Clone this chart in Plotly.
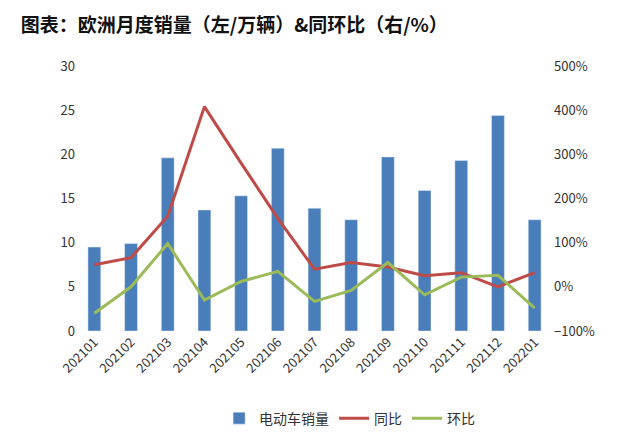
import plotly.graph_objects as go

months = ["202101","202102","202103","202104","202105","202106","202107","202108","202109","202110","202111","202112","202201"]
sales = [9.5, 9.9, 19.6, 13.7, 15.3, 20.7, 13.9, 12.6, 19.7, 15.9, 19.3, 24.4, 12.6]
yoy = [50, 66, 160, 408, 280, 155, 40, 55, 45, 25, 32, 0, 32]
mom = [-60, 0, 98, -30, 12, 35, -33, -8, 55, -18, 22, 26, -48]

fig = go.Figure()
fig.add_bar(x=months, y=sales, name="电动车销量", marker_color="#4a7ebb", width=0.35)
fig.add_scatter(x=months, y=yoy, name="同比", yaxis="y2", mode="lines", line=dict(color="#be4b48", width=3))
fig.add_scatter(x=months, y=mom, name="环比", yaxis="y2", mode="lines", line=dict(color="#9bbb59", width=3))

fig.update_layout(
    width=640, height=446, margin=dict(l=68, r=95, t=64, b=119),
    paper_bgcolor="white", plot_bgcolor="white",
    font=dict(family="Noto Sans CJK SC", size=13, color="#333"),
    title=dict(text="<b>图表：欧洲月度销量（左/万辆）&同环比（右/%）</b>", x=0.02, y=0.975, xanchor="left", font=dict(size=19, color="#111")),
    xaxis=dict(tickangle=-45, showgrid=False, showline=False, tickfont=dict(size=13)),
    yaxis=dict(range=[0, 30], dtick=5, showgrid=False, zeroline=False, tickfont=dict(size=13)),
    yaxis2=dict(overlaying="y", side="right", range=[-100, 500], dtick=100, ticksuffix="%", showgrid=False, zeroline=False, tickfont=dict(size=13)),
    legend=dict(orientation="h", x=0.3, y=-0.27, xanchor="left", yanchor="top", font=dict(size=14)),
    bargap=0.5,
)
fig.update_layout(margin=dict(t=58, b=123))
fig.write_html("out.html")
